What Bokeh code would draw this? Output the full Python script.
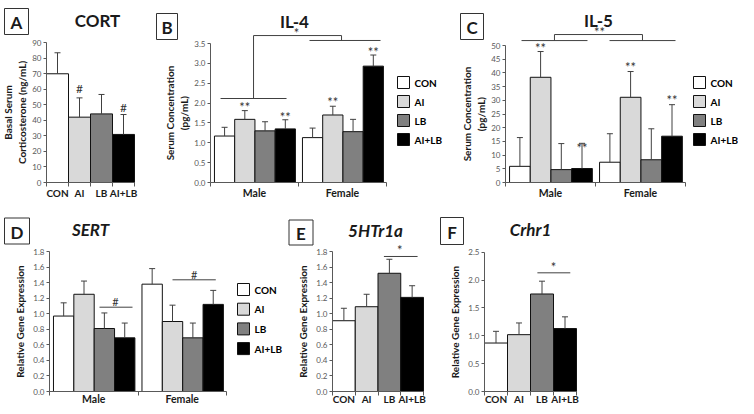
from bokeh.plotting import figure
from bokeh.models import (ColumnDataSource, Whisker, TeeHead, FixedTicker,
                          NumeralTickFormatter, LinearAxis, Range1d)
from bokeh.layouts import row, column
from bokeh.embed import file_html
from bokeh.resources import INLINE
from bokeh.core.properties import value

# ---------------- data ----------------
treatments = ["CON", "AI", "LB", "AI+LB"]
sexes = ["Male", "Female"]
colors = ["#ffffff", "#d9d9d9", "#808080", "#000000"]

# A: basal serum corticosterone (ng/mL)
cort_mean = [69.9, 42.0, 44.1, 30.9]
cort_sem = [13.5, 12.4, 12.5, 12.8]
cort_ticks = [0, 10, 20, 30, 40, 50, 60, 70, 80, 90]
cort_marks = ["#", "#"]
cort_mark_bar = [1, 3]
cort_mark_y = [61.7, 49.5]

# B: IL-4 (pg/mL)
il4_male = [1.17, 1.59, 1.30, 1.35]
il4_male_sem = [0.22, 0.22, 0.23, 0.23]
il4_female = [1.13, 1.70, 1.28, 2.93]
il4_female_sem = [0.24, 0.22, 0.31, 0.28]
il4_ticks = [0, 0.5, 1.0, 1.5, 2.0, 2.5, 3.0, 3.5]
il4_star_group = [0, 0, 1, 1]
il4_star_bar = [1, 3, 1, 3]
il4_star_y = [1.94, 1.70, 2.08, 3.34]

# C: IL-5 (pg/mL)
il5_male = [5.9, 38.4, 4.7, 5.1]
il5_male_sem = [10.5, 9.4, 9.5, 9.2]
il5_female = [7.4, 31.1, 8.3, 16.9]
il5_female_sem = [10.4, 9.4, 11.3, 11.5]
il5_ticks = [0, 5, 10, 15, 20, 25, 30, 35, 40, 45, 50]
il5_star_group = [0, 0, 1, 1]
il5_star_bar = [1, 3, 1, 3]
il5_star_y = [50.0, 13.3, 43.0, 30.8]

# D: SERT relative expression
sert_male = [0.97, 1.25, 0.81, 0.69]
sert_male_sem = [0.17, 0.17, 0.20, 0.19]
sert_female = [1.38, 0.90, 0.69, 1.12]
sert_female_sem = [0.20, 0.21, 0.19, 0.18]
gene_ticks = [0, 0.2, 0.4, 0.6, 0.8, 1.0, 1.2, 1.4, 1.6, 1.8]

# E: 5HTr1a
ht1a_mean = [0.91, 1.09, 1.52, 1.21]
ht1a_sem = [0.16, 0.16, 0.18, 0.15]

# F: Crhr1
crhr1_mean = [0.87, 1.02, 1.75, 1.13]
crhr1_sem = [0.21, 0.21, 0.23, 0.21]
crhr1_ticks = [0, 0.5, 1.0, 1.5, 2.0, 2.5]

# ---------------- style ----------------
FONT = "Lato"
AXC = "#595959"
ERRC = "#404040"
TXT = "#1a1a1a"
BAR_W = 0.23
BAR_OFF = 0.045


def grp_x(g, i):
    return g + BAR_OFF + BAR_W * (i + 0.5)


class Panel:
    """A figure whose frame fills the canvas; axes are pinned at data 0.
    left/top: canvas position on the page; axis_px/zero_py: page pixel of x=0 / y=0;
    xs/ys: pixels per data unit."""

    def __init__(self, left, top, width, height, axis_px, zero_py, xs, ys):
        self.axis_px, self.zero_py, self.xs, self.ys = axis_px, zero_py, xs, ys
        self.p = figure(width=width, height=height,
                        x_range=Range1d((left - axis_px) / xs, (left + width - axis_px) / xs),
                        y_range=Range1d((zero_py - top - height) / ys, (zero_py - top) / ys),
                        output_backend="svg", toolbar_location=None, title=None,
                        min_border=0, x_axis_type=None, y_axis_type=None)
        self.p.outline_line_color = None
        self.p.background_fill_color = "white"
        self.p.border_fill_color = "white"

    def d(self, px, py):
        return (px - self.axis_px) / self.xs, (self.zero_py - py) / self.ys

    # ---- axes ----
    def y_axis(self, ticks, fmt, label, standoff):
        ax = LinearAxis(ticker=FixedTicker(ticks=ticks), bounds=(ticks[0], ticks[-1]),
                        axis_label=label, fixed_location=0)
        if fmt:
            ax.formatter = NumeralTickFormatter(format=fmt)
        ax.axis_line_color = AXC
        ax.major_tick_line_color = AXC
        ax.major_tick_out = 3
        ax.major_tick_in = 0
        ax.minor_tick_out = 0
        ax.minor_tick_in = 0
        ax.major_label_text_font = FONT
        ax.major_label_text_font_size = "8px"
        ax.major_label_text_color = AXC
        ax.major_label_standoff = 2
        ax.axis_label_text_font = FONT
        ax.axis_label_text_font_size = "10px"
        ax.axis_label_text_font_style = "bold"
        ax.axis_label_text_color = TXT
        ax.axis_label_standoff = standoff
        self.p.add_layout(ax, "left")

    def x_axis(self, centers, labels, bounds, size, standoff):
        ax = LinearAxis(ticker=FixedTicker(ticks=centers, minor_ticks=bounds),
                        bounds=(bounds[0], bounds[-1]), fixed_location=0,
                        major_label_overrides={c: l for c, l in zip(centers, labels)})
        ax.axis_line_color = AXC
        ax.major_tick_out = 0
        ax.major_tick_in = 0
        ax.minor_tick_line_color = AXC
        ax.minor_tick_out = 4
        ax.minor_tick_in = 0
        ax.major_label_text_font = FONT
        ax.major_label_text_font_size = size
        ax.major_label_text_font_style = "bold"
        ax.major_label_text_color = TXT
        ax.major_label_standoff = standoff
        self.p.add_layout(ax, "below")

    # ---- marks ----
    def err(self, xs, tops, sems):
        src = ColumnDataSource(dict(x=xs, top=tops, upper=[t + s for t, s in zip(tops, sems)]))
        w = Whisker(source=src, base="x", lower="top", upper="upper", dimension="height",
                    lower_head=None, upper_head=TeeHead(size=6, line_color=ERRC, line_width=1),
                    line_color=ERRC, line_width=1, level="glyph")
        self.p.add_layout(w)

    def single_bars(self, means, sems):
        xs = [i + 0.5 for i in range(len(means))]
        self.p.vbar(x=xs, top=means, width=1.0, fill_color=colors, line_color="#111111",
                    line_width=1)
        self.err(xs, means, sems)
        return xs

    def group_bars(self, male, male_sem, female, female_sem):
        for i in range(4):
            xs = [grp_x(0, i), grp_x(1, i)]
            tops = [male[i], female[i]]
            self.p.vbar(x=xs, top=tops, width=BAR_W, fill_color=colors[i],
                        line_color="#111111", line_width=1)
            self.err(xs, tops, [male_sem[i], female_sem[i]])

    def marks(self, xs, ys, txt, size="13px"):
        self.p.text(x=xs, y=ys, text=txt, text_align="center", text_baseline="middle",
                    text_font=value(FONT), text_font_size=size, text_color="#333333",
                    y_offset=2)

    def lines(self, xs, ys):
        self.p.multi_line(xs=xs, ys=ys, line_color=ERRC, line_width=1)

    # ---- decorations placed at page-pixel positions ----
    def box(self, cx, cy, w, h, letter):
        x, y = self.d(cx, cy)
        self.p.rect(x=[x], y=[y], width=w, height=h, width_units="screen",
                    height_units="screen", fill_color="white", line_color="#333333",
                    line_width=1)
        self.p.text(x=[x], y=[y], text=[letter], text_align="center", text_baseline="middle",
                    text_font=value(FONT), text_font_size="17px", text_font_style="bold",
                    text_color=TXT, y_offset=1)

    def title(self, cx, cy, txt, italic=False):
        x, y = self.d(cx, cy)
        self.p.text(x=[x], y=[y], text=[txt], text_align="center", text_baseline="middle",
                    text_font=value(FONT), text_font_size="17px",
                    text_font_style="bold italic" if italic else "bold", text_color=TXT)

    def legend(self, sx, sy, pitch):
        cx, cy, tx = [], [], []
        for i in range(len(treatments)):
            x, y = self.d(sx + 6, sy + 6 + i * pitch)
            cx.append(x)
            cy.append(y)
            tx.append(self.d(sx + 17, 0)[0])
        self.p.rect(x=cx, y=cy, width=12, height=12, width_units="screen",
                    height_units="screen", fill_color=colors, line_color="#111111",
                    line_width=1)
        self.p.text(x=tx, y=cy, text=treatments, text_align="left", text_baseline="middle",
                    text_font=value(FONT), text_font_size="10px", text_font_style="bold",
                    text_color="#000000")


# ---------------- A: CORT ----------------
A = Panel(8, 0, 147, 200, 54, 182, 22, 140 / 90)
xsA = A.single_bars(cort_mean, cort_sem)
A.y_axis(cort_ticks, None, "Basal Serum\nCorticosterone (ng/mL)", 1)
A.x_axis(xsA, treatments, [0, 1, 2, 3, 4], "10px", 0)
A.marks([xsA[b] for b in cort_mark_bar], cort_mark_y, cort_marks, "12px")
A.box(24, 21, 24, 26, "A")
A.title(105, 20, "CORT")

# ---------------- B: IL-4 ----------------
B = Panel(155, 0, 300, 200, 218, 182, 88, 139 / 3.5)
B.group_bars(il4_male, il4_male_sem, il4_female, il4_female_sem)
B.y_axis(il4_ticks, "0.0", "Serum Concentration\n(pg/mL)", 1)
B.x_axis([0.5, 1.5], sexes, [0, 1, 2], "10.5px", 0)
B.marks([grp_x(g, b) for g, b in zip(il4_star_group, il4_star_bar)], il4_star_y, ["**"] * 4)
B.lines([[0.114, 0.864], [0.489, 0.489, 1.489, 1.489], [1.125, 1.932]],
        [[2.115, 2.115], [2.115, 3.70, 3.70, 3.576], [3.576, 3.576]])
B.marks([0.977], [3.81], ["*"])
B.legend(405, 76, 19)
B.box(174.5, 26, 21, 26, "B")
B.title(302, 21, "IL-4")

# ---------------- C: IL-5 ----------------
C = Panel(455, 0, 291, 200, 513, 182, 90, 137 / 50)
C.group_bars(il5_male, il5_male_sem, il5_female, il5_female_sem)
C.y_axis(il5_ticks, None, "Serum Concentration\n(pg/mL)", 1)
C.x_axis([0.5, 1.5], sexes, [0, 1, 2], "10.5px", 0)
C.marks([grp_x(g, b) for g, b in zip(il5_star_group, il5_star_bar)], il5_star_y, ["**"] * 4)
C.lines([[0.178, 0.911], [0.544, 0.544, 1.522, 1.522], [1.156, 1.889]],
        [[51.8, 51.8], [51.8, 54.0, 54.0, 51.8], [51.8, 51.8]])
C.marks([1.044], [55.5], ["**"])
C.legend(701, 76, 19)
C.box(479.5, 26, 23, 26, "C")
C.title(606, 20, "IL-5")

# ---------------- D: SERT ----------------
D = Panel(8, 200, 287, 206, 57, 391, 88.5, 140 / 1.8)
D.group_bars(sert_male, sert_male_sem, sert_female, sert_female_sem)
D.y_axis(gene_ticks, "0.0", "Relative Gene Expression", 4)
D.x_axis([0.5, 1.5], sexes, [0, 1, 2], "10.5px", -3)
D.lines([[0.565, 0.938], [1.39, 1.879]], [[1.084, 1.084], [1.436, 1.436]])
D.marks([0.746, 1.635], [1.18, 1.534], ["#", "#"], "11px")
D.legend(245, 283, 19.7)
D.box(24.5, 230.5, 25, 26, "D")
D.title(98, 229, "SERT", italic=True)

# ---------------- E: 5HTr1a ----------------
E = Panel(295, 200, 150, 206, 340, 391, 22.75, 140 / 1.8)
xsE = E.single_bars(ht1a_mean, ht1a_sem)
E.y_axis(gene_ticks, "0.0", "Relative Gene Expression", 4)
E.x_axis(xsE, treatments, [0, 1, 2, 3, 4], "10px", -3)
E.lines([[2.26, 3.74]], [[1.736, 1.736]])
E.marks([2.96], [1.84], ["*"])
E.box(308.5, 232, 24, 25, "E")
E.title(383, 230, "5HTr1a", italic=True)

# ---------------- F: Crhr1 ----------------
F = Panel(445, 200, 301, 206, 492, 391, 23, 139.3 / 2.5)
xsF = F.single_bars(crhr1_mean, crhr1_sem)
F.y_axis(crhr1_ticks, "0.0", "Relative Gene Expression", 4)
F.x_axis(xsF, treatments, [0, 1, 2, 3, 4], "10px", -3)
F.lines([[2.30, 3.73]], [[2.13, 2.13]])
F.marks([3.0], [2.27], ["*"])
F.box(459.5, 230.5, 23, 27, "F")
F.title(538, 229, "Crhr1", italic=True)

layout = column(row(A.p, B.p, C.p), row(D.p, E.p, F.p))
open("out.html", "w").write(file_html(layout, INLINE))
